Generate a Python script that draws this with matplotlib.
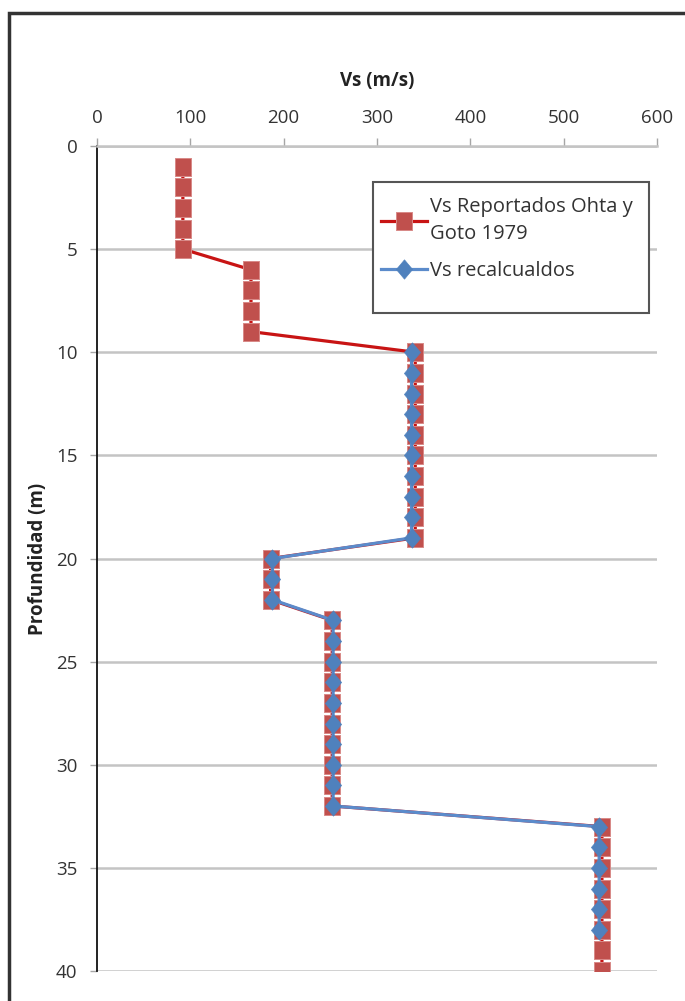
import matplotlib.pyplot as plt
from matplotlib.patches import Rectangle
from matplotlib.path import Path

plt.rcParams['font.family'] = ['Open Sans', 'DejaVu Sans']

# Perfil de velocidades de onda de corte
prof_reportado = list(range(1, 41))
vs_reportado = [92] * 5 + [165] * 4 + [341] * 10 + [186] * 3 + [252] * 10 + [541] * 8

prof_recalc = list(range(10, 39))
vs_recalc = [337] * 10 + [188] * 3 + [253] * 10 + [538] * 6

# marcadores algo mas altos que anchos
cuadro = Path([(-0.46, -0.5), (0.46, -0.5), (0.46, 0.5), (-0.46, 0.5), (-0.46, -0.5)],
              [Path.MOVETO, Path.LINETO, Path.LINETO, Path.LINETO, Path.CLOSEPOLY])
rombo = Path([(0, -0.5), (0.42, 0), (0, 0.5), (-0.42, 0), (0, -0.5)],
             [Path.MOVETO, Path.LINETO, Path.LINETO, Path.LINETO, Path.CLOSEPOLY])

W, H = 685, 1001
fig = plt.figure(figsize=(W / 100, H / 100), dpi=100)
ax = fig.add_axes([97 / W, 1 - 971 / H, 560 / W, 825 / H])

ax.plot(vs_reportado, prof_reportado, color='#C81414', lw=2.3, marker=cuadro,
        ms=13, mfc='#C0504D', mec='#D88A88', mew=0.7,
        label='Vs Reportados Ohta y\nGoto 1979', zorder=3)
ax.plot(vs_recalc, prof_recalc, color='#5B8BCB', lw=2.3, marker=rombo,
        ms=14, mfc='#4F81BD', mec='#4F81BD', mew=0.4,
        label='Vs recalcualdos', zorder=4)

ax.set_xlim(0, 600)
ax.set_ylim(40, 0)
ax.set_xticks(range(0, 601, 100))
ax.set_yticks(range(0, 41, 5))
ax.xaxis.tick_top()
ax.xaxis.set_label_position('top')
ax.tick_params(axis='x', direction='out', length=6, width=1, color='#a6a6a6',
               labelsize=13.5, pad=8, labelcolor='#333333')
ax.tick_params(axis='y', direction='out', length=5, width=1, color='#a6a6a6',
               labelsize=13.5, pad=9, labelcolor='#333333')

ax.set_xlabel('Vs (m/s)', fontsize=13.5, fontweight='bold', labelpad=16,
              color='#222222')
ax.set_ylabel('Profundidad (m)', fontsize=13.5, fontweight='bold', labelpad=6,
              color='#222222')

ax.grid(axis='y', color='#c4c4c4', lw=1.8)
ax.set_axisbelow(True)
for side in ('right', 'bottom'):
    ax.spines[side].set_visible(False)
ax.spines['top'].set_color('#c4c4c4')
ax.spines['top'].set_linewidth(1.8)
ax.spines['left'].set_color('#111111')
ax.spines['left'].set_linewidth(1.3)

# recuadro de la leyenda, mas alto que su contenido
caja = Rectangle((373 / W, 1 - 313 / H), 276 / W, 131 / H,
                 transform=fig.transFigure, facecolor='white',
                 edgecolor='#555555', lw=1.5, zorder=5, clip_on=False)
ax.add_patch(caja)

leg = ax.legend(loc='upper left', bbox_to_anchor=(366 / W, 1 - 182 / H),
                bbox_transform=fig.transFigure, fontsize=14.5, frameon=False,
                handlelength=2.3, borderpad=0.75, labelspacing=0.85,
                handletextpad=0.15, borderaxespad=0)
leg.set_zorder(6)
for t in leg.get_texts():
    t.set_linespacing(1.45)
    t.set_color('#333333')

# marco exterior del grafico
fig.patches.append(Rectangle((9 / W, -0.05), 1.1, 1 - 13 / H + 0.05,
                             transform=fig.transFigure, fill=False,
                             edgecolor='#333333', lw=2.5))

fig.savefig('out.png', dpi=100)
